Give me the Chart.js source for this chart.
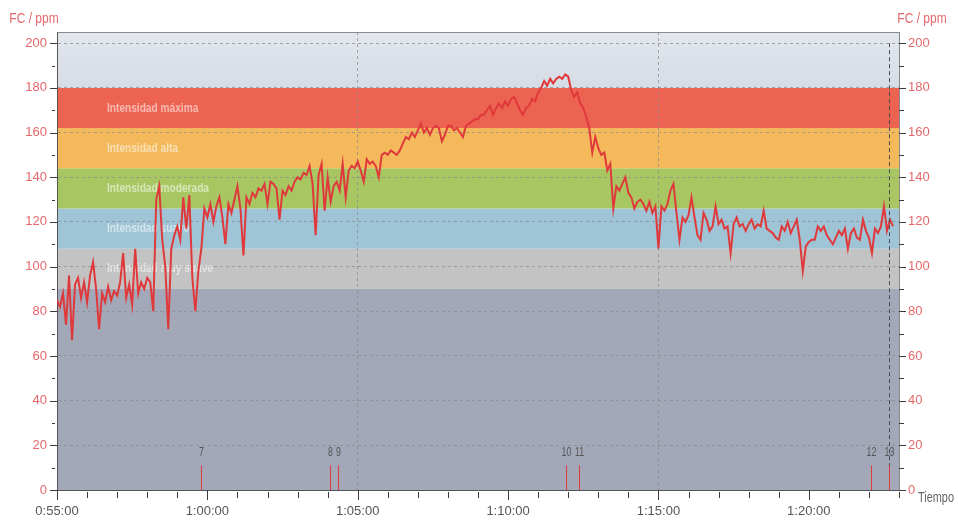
<!DOCTYPE html>
<html><head><meta charset="utf-8">
<script src="https://cdn.jsdelivr.net/npm/chart.js@4.4.0/dist/chart.umd.min.js"></script>
<style>html,body{margin:0;padding:0;background:#fff;}canvas{display:block;}</style>
</head><body>
<canvas id="c" width="958" height="520"></canvas>
<script>
// ---- data ----
const startClockSeconds = 55 * 60;      // 0:55:00
const sampleStepSeconds = 6;
const heartRate = [
 85,82,88,74,96,67,92,95,86,93,
 84,96,102,90,72,88,84,91,85,89,
 87,93,106,86,92,83,108,88,93,90,
 95,93,80,130,136,112,100,72,108,114,
 118,112,131,117,132,95,80,98,108,126,
 122,128,120,127,131,122,110,128,124,130,
 136,126,105,131,128,133,131,135,134,137,
 128,138,137,135,121,134,132,136,134,138,
 140,139,142,141,145,137,114,141,146,125,
 140,129,136,138,134,146,131,143,145,144,
 147,143,138,148,146,147,145,140,150,151,
 150,152,151,150,152,155,158,157,160,158,
 161,164,160,162,159,162,163,162,156,159,
 163,163,161,162,160,158,163,164,165,166,
 166,168,168,170,172,168,171,173,171,174,
 172,175,176,173,170,168,171,172,175,174,
 178,180,183,181,184,182,184,185,184,186,
 185,179,176,178,173,171,167,162,151,158,
 153,150,151,143,146,126,136,134,137,140,
 133,131,126,129,130,128,125,129,124,127,
 108,127,125,128,134,137,124,112,122,120,
 123,131,122,114,112,124,121,116,118,127,
 119,121,117,118,106,119,122,118,119,116,
 119,121,117,119,118,125,117,116,115,113,
 112,118,116,120,115,118,121,112,98,109,
 111,112,112,118,116,118,114,112,110,113,
 116,114,117,108,115,117,113,112,121,116,
 113,106,117,115,118,127,116,121,118
];
const xTickLabels = ['0:55:00','1:00:00','1:05:00','1:10:00','1:15:00','1:20:00'];
const yTickLabels = [0,20,40,60,80,100,120,140,160,180,200];
const zoneNames = ['Intensidad muy suave','Intensidad suave','Intensidad moderada','Intensidad alta','Intensidad máxima'];
const zoneBounds = [90,108,126,144,162,180];
const markerLabels = ['7','8','9','10','11','12','13'];
const markerTimes = [288,545,561,1015,1041,1625,1661];   // seconds after 0:55:00
const axisTitleY = 'FC / ppm';
const axisTitleX = 'Tiempo';

// ---- styles ----
const FONT = "'Liberation Sans',Arial,sans-serif";
const zoneColors = ['#c3c3c4','#9fc4d6','#a8c762','#f3b95a','#ec6352'];
const belowColor = '#a3a8b9';
const lineColor = '#e0393b';
const tickRed = '#e5686b';

const points = heartRate.map((v, i) => ({x: i * sampleStepSeconds, y: v}));

function narrowText(ctx, text, x, y, align, squeeze) {
  ctx.save();
  ctx.translate(x, y);
  ctx.scale(squeeze, 1);
  ctx.textAlign = align;
  ctx.textBaseline = 'middle';
  ctx.fillText(text, 0, 0);
  ctx.restore();
}

const bandsPlugin = {
  id: 'bands',
  beforeDraw(chart) {
    const {ctx, chartArea: a, scales: {y}} = chart;
    ctx.save();
    ctx.fillStyle = belowColor;
    ctx.fillRect(a.left, y.getPixelForValue(zoneBounds[0]), a.right - a.left, a.bottom - y.getPixelForValue(zoneBounds[0]));
    for (let i = 0; i < zoneNames.length; i++) {
      const y1 = y.getPixelForValue(zoneBounds[i + 1]);
      const y0 = y.getPixelForValue(zoneBounds[i]);
      ctx.fillStyle = zoneColors[i];
      ctx.fillRect(a.left, y1, a.right - a.left, y0 - y1);
    }
    const yt = y.getPixelForValue(zoneBounds[zoneBounds.length - 1]);
    const g = ctx.createLinearGradient(0, a.top, 0, yt);
    g.addColorStop(0, '#e3e7ee');
    g.addColorStop(1, '#d6dce5');
    ctx.fillStyle = g;
    ctx.fillRect(a.left, a.top, a.right - a.left, yt - a.top);
    ctx.restore();
  },
  beforeDatasetsDraw(chart) {
    const {ctx, chartArea: a, scales: {y}} = chart;
    ctx.save();
    ctx.font = "bold 13px " + FONT;
    ctx.fillStyle = 'rgba(255,255,255,0.55)';
    for (let i = 0; i < zoneNames.length; i++) {
      const mid = (zoneBounds[i] + zoneBounds[i + 1]) / 2;
      narrowText(ctx, zoneNames[i], a.left + 50, y.getPixelForValue(mid), 'left', 0.78);
    }
    ctx.restore();
  },
  afterDatasetsDraw(chart) {
    const {ctx, chartArea: a, scales: {x, y}} = chart;
    ctx.save();
    ctx.strokeStyle = '#8a8a8a';
    ctx.lineWidth = 1;
    ctx.beginPath(); ctx.moveTo(a.left, a.top + 0.5); ctx.lineTo(a.right, a.top + 0.5); ctx.stroke();
    const lastX = Math.round(x.getPixelForValue(markerTimes[markerTimes.length - 1])) + 0.5;
    ctx.strokeStyle = '#4a4a55';
    ctx.setLineDash([4, 3]);
    ctx.beginPath(); ctx.moveTo(lastX, y.getPixelForValue(200)); ctx.lineTo(lastX, a.bottom); ctx.stroke();
    ctx.setLineDash([]);
    ctx.font = "13px " + FONT;
    for (let i = 0; i < markerTimes.length; i++) {
      const px = Math.round(x.getPixelForValue(markerTimes[i])) + 0.5;
      ctx.strokeStyle = lineColor;
      ctx.beginPath(); ctx.moveTo(px, y.getPixelForValue(0)); ctx.lineTo(px, y.getPixelForValue(11)); ctx.stroke();
      ctx.fillStyle = '#555';
      narrowText(ctx, markerLabels[i], px, y.getPixelForValue(17), 'center', 0.68);
    }
    ctx.restore();
  },
  afterDraw(chart) {
    const {ctx, chartArea: a, scales: {x, y}} = chart;
    ctx.save();
    ctx.strokeStyle = '#3a3a3a';
    ctx.lineWidth = 1;
    ctx.beginPath();
    for (let v = 0; v <= 200; v += 10) {
      const py = Math.round(y.getPixelForValue(v)) + 0.5;
      const major = v % 20 === 0;
      ctx.moveTo(major ? a.left - 7 : a.left - 5, py); ctx.lineTo(major ? a.left : a.left - 2, py);
      ctx.moveTo(a.right, py); ctx.lineTo(a.right + (major ? 7 : 5), py);
    }
    for (let t = 0; t <= 1680; t += 60) {
      const px = Math.round(x.getPixelForValue(t)) + 0.5;
      const major = t % 300 === 0;
      ctx.moveTo(px, major ? a.bottom : a.bottom + 2); ctx.lineTo(px, a.bottom + (major ? 10 : 8));
    }
    ctx.stroke();
    ctx.font = "15px " + FONT;
    ctx.fillStyle = tickRed;
    narrowText(ctx, axisTitleY, 34, 19, 'center', 0.8);
    narrowText(ctx, axisTitleY, 922, 19, 'center', 0.8);
    ctx.font = "14px " + FONT;
    ctx.fillStyle = '#666';
    narrowText(ctx, axisTitleX, 918, 498, 'left', 0.78);
    ctx.restore();
  }
};

const yTickCb = v => (yTickLabels.includes(v) ? String(v) : '');
const yTicksAll = s => {
  const arr = [];
  for (let v = 0; v <= 200; v += 10) arr.push({value: v});
  s.ticks = arr;
};

new Chart(document.getElementById('c'), {
  type: 'line',
  data: {
    datasets: [{
      data: points,
      borderColor: lineColor,
      borderWidth: 2,
      pointRadius: 0,
      tension: 0,
      fill: false
    }]
  },
  options: {
    responsive: false,
    animation: false,
    devicePixelRatio: 1,
    parsing: false,
    layout: {padding: {top: 32, left: 0, right: 0, bottom: 0}},
    plugins: {legend: {display: false}, tooltip: {enabled: false}},
    scales: {
      x: {
        type: 'linear', min: 0, max: 1680,
        afterFit: s => { s.height = 30; },
        ticks: {
          stepSize: 60, autoSkip: false, maxRotation: 0, padding: 14,
          color: '#555', font: {family: FONT, size: 13},
          callback: v => (v % 300 === 0 ? xTickLabels[v / 300] || '' : '')
        },
        grid: {
          drawTicks: false,
          color: c => (c.tick && (c.tick.value === 600 || c.tick.value === 1200) ? 'rgba(140,140,140,0.75)' : 'rgba(0,0,0,0)')
        },
        border: {display: true, color: '#555', width: 1, dash: [3, 3]}
      },
      y: {
        type: 'linear', position: 'left', min: 0, max: 205,
        afterFit: s => { s.width = 57; },
        afterBuildTicks: yTicksAll,
        ticks: {autoSkip: false, padding: 10, color: tickRed, font: {family: FONT, size: 13}, callback: yTickCb},
        grid: {
          drawTicks: false,
          color: c => (c.tick && c.tick.value > 0 && c.tick.value <= 200 && c.tick.value % 20 === 0 ? 'rgba(140,140,140,0.75)' : 'rgba(0,0,0,0)')
        },
        border: {display: true, color: '#555', width: 1, dash: [3, 3]}
      },
      y2: {
        type: 'linear', position: 'right', min: 0, max: 205,
        afterFit: s => { s.width = 59; },
        afterBuildTicks: yTicksAll,
        ticks: {autoSkip: false, padding: 9, color: tickRed, font: {family: FONT, size: 13}, callback: yTickCb},
        grid: {drawTicks: false, drawOnChartArea: false},
        border: {display: true, color: '#8a8a8a', width: 1}
      }
    }
  },
  plugins: [bandsPlugin]
});
</script>
</body></html>
